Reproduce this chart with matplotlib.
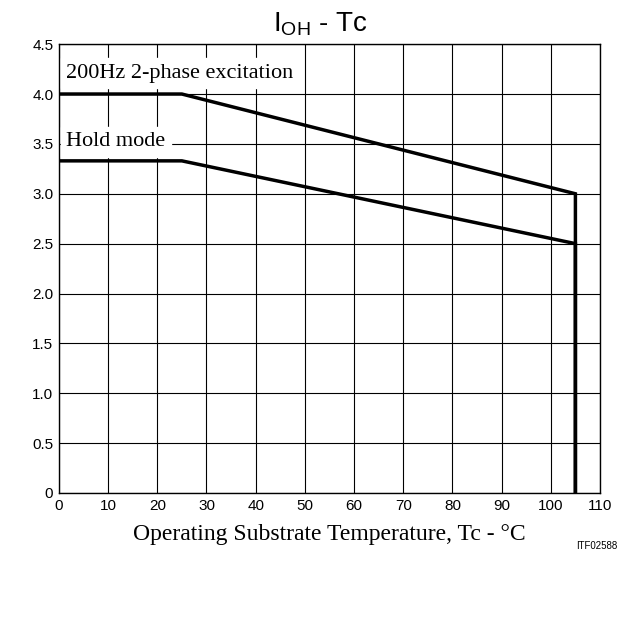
import matplotlib
matplotlib.use("Agg")
import matplotlib.pyplot as plt

temp_a = [0, 25, 105, 105]
cur_a = [4.0, 4.0, 3.0, 0.0]
temp_b = [0, 25, 105, 105]
cur_b = [3.33, 3.33, 2.5, 0.0]
xticks = list(range(0, 111, 10))
yticks = [0, 0.5, 1.0, 1.5, 2.0, 2.5, 3.0, 3.5, 4.0, 4.5]
ylabels = ["0", "0.5", "1.0", "1.5", "2.0", "2.5", "3.0", "3.5", "4.0", "4.5"]

fig = plt.figure(figsize=(6.4, 6.4), dpi=100)
ax = fig.add_axes([0.092, 0.2297, 0.8455, 0.7013])
ax.set_xlim(0, 110)
ax.set_ylim(0, 4.5)
ax.set_xticks(xticks)
ax.set_yticks(yticks)
ax.set_yticklabels(ylabels)
ax.tick_params(length=0, labelsize=11, pad=4)
for lab in ax.get_xticklabels() + ax.get_yticklabels():
    lab.set_fontfamily("Liberation Sans")
ax.grid(True, color="black", linewidth=0.8)
ax.set_axisbelow(True)
for s in ax.spines.values():
    s.set_linewidth(1.0)
ax.plot(temp_a, cur_a, color="black", linewidth=2.5, solid_joinstyle="miter")
ax.plot(temp_b, cur_b, color="black", linewidth=2.5, solid_joinstyle="miter")
ax.text(1.5, 4.21, "200Hz 2-phase excitation", family="Liberation Serif", fontsize=16,
        backgroundcolor="white", va="center", ha="left")
ax.text(1.5, 3.52, "Hold mode", family="Liberation Serif", fontsize=16,
        backgroundcolor="white", va="center", ha="left")
ax.set_xlabel("Operating Substrate Temperature, Tc - °C", family="Liberation Serif", fontsize=17, labelpad=8)
fig.text(0.5, 0.962, r"I$_{\mathregular{OH}}$ - Tc", ha="center", va="center",
         family="Liberation Sans", fontsize=20)
fig.text(0.965, 0.142, "ITF02588", ha="right", family="Liberation Sans", fontsize=7)
fig.savefig("out.png")
